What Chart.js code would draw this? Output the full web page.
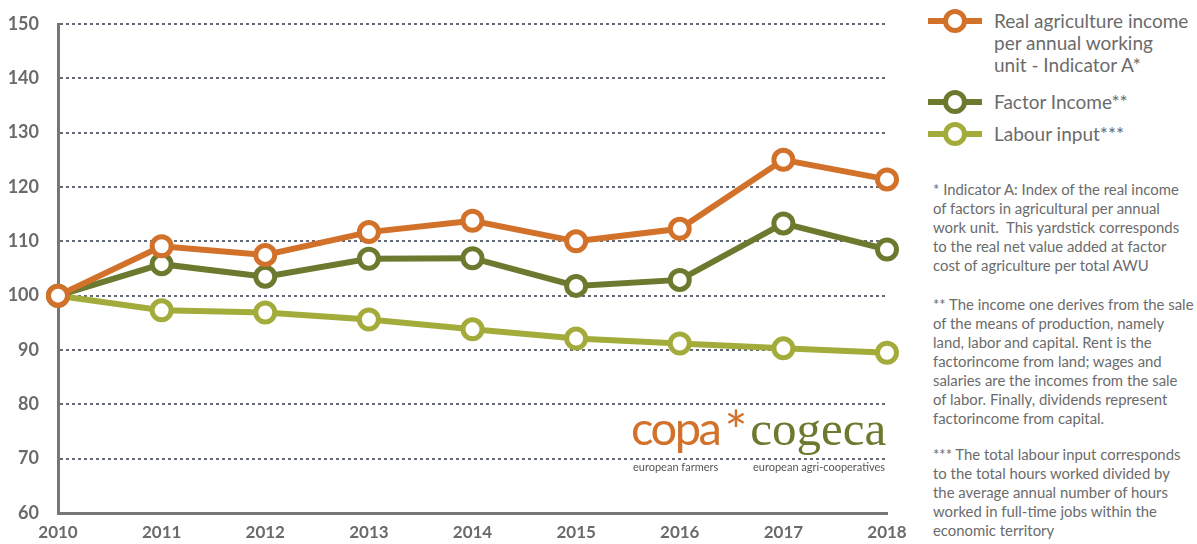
<!DOCTYPE html>
<html>
<head>
<meta charset="utf-8">
<script src="https://cdn.jsdelivr.net/npm/chart.js@4.4.1/dist/chart.umd.min.js"></script>
<style>
    html, body { margin: 0; padding: 0; background: #fff; }
    body { width: 1197px; height: 544px; position: relative; overflow: hidden; font-family: Lato, 'Open Sans', sans-serif; color: #6b6b6b; }
    #chartBox { position: absolute; left: 0; top: 0; width: 910px; height: 544px; }
    .legend { position: absolute; left: 926px; top: 8px; }
    .legend-item { position: absolute; left: 0; width: 270px; }
    .legend-item svg { position: absolute; left: 0; }
    .legend-item span { position: absolute; left: 68px; font-size: 19px; line-height: 22px; white-space: nowrap; }
    .notes { position: absolute; left: 933px; font-size: 14.9px; line-height: 19px; white-space: nowrap; }
    .logo { position: absolute; left: 631px; top: 402px; height: 80px; line-height: 50px; white-space: nowrap; }
    .logo .copa { font-family: Lato, sans-serif; font-size: 47px; color: #d2712a; letter-spacing: -2.5px; }
    .logo .star { font-size: 54px; line-height: 0; color: #d2712a; position: relative; top: 5px; margin: 0 3px 0 5px; }
    .logo .cogeca { font-family: 'Liberation Serif', 'DejaVu Serif', serif; font-size: 49px; color: #6b7a2e; }
    .logo .sub { position: absolute; top: 58px; line-height: 14px; font-size: 11px; color: #555; }
</style>
</head>
<body>
<div id="chartBox"><canvas id="incomeChart"></canvas></div>

<div class="legend">
    <div class="legend-item" style="top:0">
        <svg width="60" height="26"><line x1="2" y1="13" x2="56" y2="13" stroke="#d2712a" stroke-width="6"/><circle cx="29" cy="13" r="9.5" fill="#fff" stroke="#d2712a" stroke-width="5"/></svg>
        <span style="top:2px">Real agriculture income<br>per annual working<br>unit - Indicator A*</span>
    </div>
    <div class="legend-item" style="top:81px">
        <svg width="60" height="26"><line x1="2" y1="13" x2="56" y2="13" stroke="#6b7a2e" stroke-width="6"/><circle cx="29" cy="13" r="9.5" fill="#fff" stroke="#6b7a2e" stroke-width="5"/></svg>
        <span style="top:2px">Factor Income**</span>
    </div>
    <div class="legend-item" style="top:113px">
        <svg width="60" height="26"><line x1="2" y1="13" x2="56" y2="13" stroke="#a3ac3a" stroke-width="6"/><circle cx="29" cy="13" r="9.5" fill="#fff" stroke="#a3ac3a" stroke-width="5"/></svg>
        <span style="top:2px">Labour input***</span>
    </div>
</div>

<div class="notes" style="top:180px">* Indicator A: Index of the real income<br>of factors in agricultural per annual<br>work unit.&nbsp; This yardstick corresponds<br>to the real net value added at factor<br>cost of agriculture per total AWU</div>
<div class="notes" style="top:295px">** The income one derives from the sale<br>of the means of production, namely<br>land, labor and capital. Rent is the<br>factorincome from land; wages and<br>salaries are the incomes from the sale<br>of labor. Finally, dividends represent<br>factorincome from capital.</div>
<div class="notes" style="top:445px">*** The total labour input corresponds<br>to the total hours worked divided by<br>the average annual number of hours<br>worked in full-time jobs within the<br>economic territory</div>

<div class="logo">
    <span class="copa">copa</span><span class="star">*</span><span class="cogeca">cogeca</span>
    <div class="sub" style="left:2px">european farmers</div>
    <div class="sub" style="left:122px">european agri-cooperatives</div>
</div>

<script>
// 데이터
const years = ['2010', '2011', '2012', '2013', '2014', '2015', '2016', '2017', '2018'];
const realIncome = [100, 109.1, 107.5, 111.7, 113.8, 110.0, 112.3, 125.0, 121.4];
const factorIncome = [100, 105.8, 103.5, 106.8, 106.9, 101.8, 102.9, 113.3, 108.5];
const labourInput = [100, 97.3, 96.9, 95.6, 93.8, 92.1, 91.2, 90.3, 89.5];

const seriesLabels = [
    'Real agriculture income per annual working unit - Indicator A*',
    'Factor Income**',
    'Labour input***',
];
const seriesColors = ['#d2712a', '#6b7a2e', '#a3ac3a'];

function makeDataset(label, data, color) {
    return {
        label: label,
        data: data,
        borderColor: color,
        backgroundColor: '#ffffff',
        borderWidth: 6,
        pointRadius: 9.5,
        pointBorderWidth: 5,
        pointBackgroundColor: '#ffffff',
        pointBorderColor: color,
        tension: 0,
        clip: false,
    };
}

// 축 여백을 직접 고정 (라벨 크기에 따른 자동 여백 제거)
function fixPadding(scale) {
    scale.paddingTop = 0;
    scale.paddingBottom = 0;
    scale.paddingLeft = 0;
    scale.paddingRight = 0;
}

const ctx = document.getElementById('incomeChart').getContext('2d');
const incomeChart = new Chart(ctx, {
    type: 'line',
    data: {
        labels: years,
        datasets: [
            makeDataset(seriesLabels[0], realIncome, seriesColors[0]),
            makeDataset(seriesLabels[1], factorIncome, seriesColors[1]),
            makeDataset(seriesLabels[2], labourInput, seriesColors[2]),
        ],
    },
    options: {
        responsive: true,
        maintainAspectRatio: false,
        animation: false,
        layout: { padding: { top: 24, right: 23, bottom: 0, left: 0 } },
        plugins: {
            legend: { display: false },
            tooltip: { enabled: false },
        },
        scales: {
            x: {
                offset: false,
                grid: { display: false, drawTicks: false },
                border: { display: true, color: '#777777', width: 3 },
                ticks: {
                    padding: 9,
                    color: '#6a6a6a',
                    font: { family: 'Lato', size: 17, weight: 'bold' },
                    maxRotation: 0,
                },
                afterFit: (scale) => { scale.height = 31; fixPadding(scale); },
            },
            y: {
                min: 60,
                max: 150,
                ticks: {
                    stepSize: 10,
                    padding: 19,
                    color: '#6a6a6a',
                    font: { family: 'Lato', size: 18, weight: 'bold' },
                },
                grid: { color: '#646a76', lineWidth: 2, drawTicks: false },
                border: { display: true, color: '#777777', width: 3, dash: [3, 3] },
                afterFit: (scale) => { scale.width = 58; fixPadding(scale); },
            },
        },
    },
});
</script>
</body>
</html>
